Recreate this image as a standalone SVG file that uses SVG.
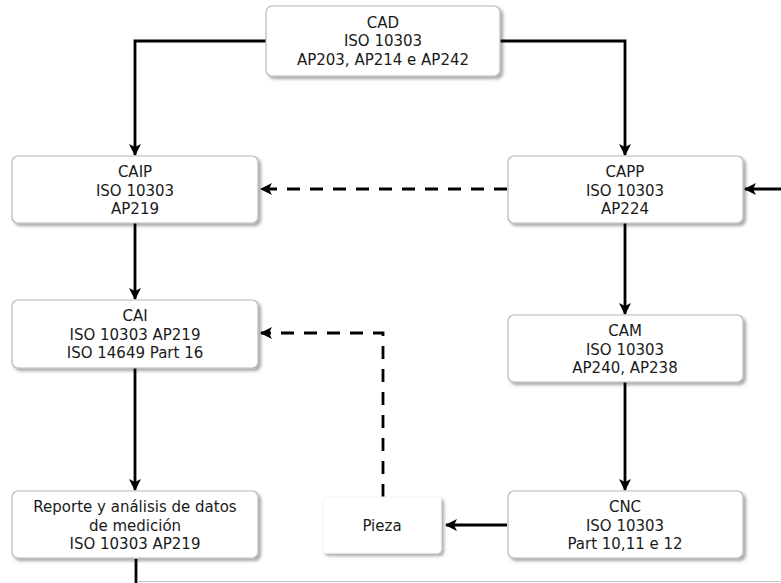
<svg xmlns="http://www.w3.org/2000/svg" width="781" height="583" viewBox="0 0 781 583">
<defs>
<filter id="sh" x="-10%" y="-10%" width="125%" height="130%">
<feDropShadow dx="2.5" dy="2.5" stdDeviation="1.5" flood-color="#000" flood-opacity="0.35"/>
</filter>
<marker id="ah" viewBox="0 0 12 12" refX="11" refY="6" markerWidth="12" markerHeight="12" markerUnits="userSpaceOnUse" orient="auto">
<path d="M0,0 L12,6 L0,12 L3,6 Z" fill="#000"/>
</marker>
</defs>
<style>
.box{fill:#fff;stroke:#b8b8b8;stroke-width:1.2;filter:url(#sh)}
.t{font-family:"DejaVu Sans",sans-serif;font-size:15px;fill:#1a1a1a;text-anchor:middle}
.c{fill:none;stroke:#000;stroke-width:2.8}
.d{fill:none;stroke:#000;stroke-width:2.8;stroke-dasharray:13 10}
</style>
<rect width="781" height="583" fill="#fff"/>
<g id="connectors">
<path class="c" d="M266,41 H135 V155" marker-end="url(#ah)"/>
<path class="c" d="M500,41 H625 V155" marker-end="url(#ah)"/>
<path class="d" d="M507,189 H261" marker-end="url(#ah)"/>
<path class="c" d="M781,189 H745" marker-end="url(#ah)"/>
<path class="c" d="M135,223 V299" marker-end="url(#ah)"/>
<path class="c" d="M135,368 V490" marker-end="url(#ah)"/>
<path class="c" d="M625,223 V314" marker-end="url(#ah)"/>
<path class="c" d="M625,382 V490" marker-end="url(#ah)"/>
<path class="c" d="M507,525 H446" marker-end="url(#ah)"/>
<path class="d" d="M383,497 V333 H261" marker-end="url(#ah)"/>
<path class="c" d="M136,559 V583"/>
<path d="M137,581.5 H781" stroke="#c8c8c8" stroke-width="1.2" fill="none"/>
</g>
<g id="cad">
<rect class="box" x="266" y="6" width="234" height="70" rx="6"/>
<text class="t" x="383" y="27.5">CAD</text>
<text class="t" x="383" y="46">ISO 10303</text>
<text class="t" x="383" y="64.5">AP203, AP214 e AP242</text>
</g>
<g id="caip">
<rect class="box" x="12" y="156" width="246" height="67" rx="6"/>
<text class="t" x="135" y="177">CAIP</text>
<text class="t" x="135" y="195.5">ISO 10303</text>
<text class="t" x="135" y="214">AP219</text>
</g>
<g id="capp">
<rect class="box" x="508" y="156" width="235" height="67" rx="6"/>
<text class="t" x="625" y="177">CAPP</text>
<text class="t" x="625" y="195.5">ISO 10303</text>
<text class="t" x="625" y="214">AP224</text>
</g>
<g id="cai">
<rect class="box" x="12" y="300" width="246" height="68" rx="6"/>
<text class="t" x="135" y="321">CAI</text>
<text class="t" x="135" y="339.5">ISO 10303 AP219</text>
<text class="t" x="135" y="358">ISO 14649 Part 16</text>
</g>
<g id="cam">
<rect class="box" x="508" y="315" width="235" height="67" rx="6"/>
<text class="t" x="625" y="336">CAM</text>
<text class="t" x="625" y="354.5">ISO 10303</text>
<text class="t" x="625" y="373">AP240, AP238</text>
</g>
<g id="reporte">
<rect class="box" x="12" y="491" width="246" height="67" rx="6"/>
<text class="t" x="135" y="512">Reporte y análisis de datos</text>
<text class="t" x="135" y="530.5">de medición</text>
<text class="t" x="135" y="549">ISO 10303 AP219</text>
</g>
<g id="cnc">
<rect class="box" x="508" y="491" width="235" height="67" rx="6"/>
<text class="t" x="625" y="512">CNC</text>
<text class="t" x="625" y="530.5">ISO 10303</text>
<text class="t" x="625" y="549">Part 10,11 e 12</text>
</g>
<g id="pieza">
<rect x="323" y="497" width="118" height="56" rx="3" fill="#fff" stroke="#f2f2f2" stroke-width="1" filter="url(#sh)"/>
<text class="t" x="382" y="531">Pieza</text>
</g>
</svg>
